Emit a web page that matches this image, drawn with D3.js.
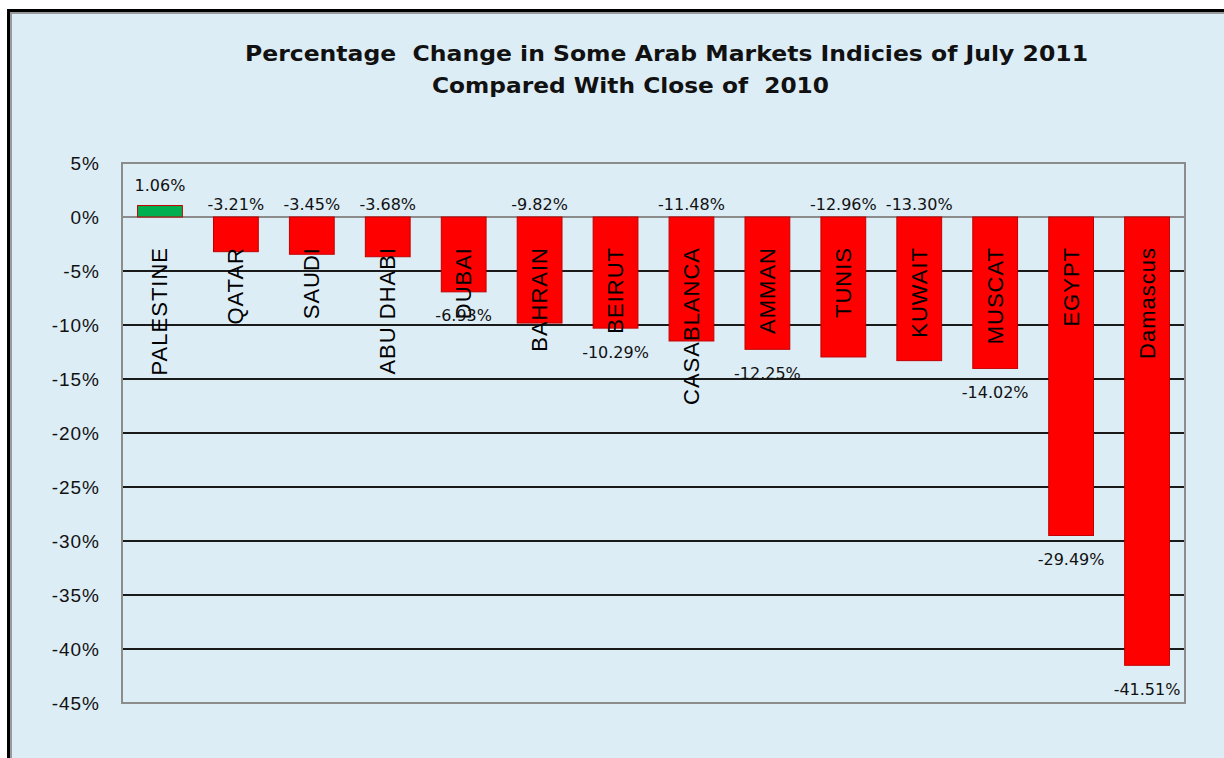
<!DOCTYPE html>
<html>
<head>
<meta charset="utf-8">
<script src="https://cdn.jsdelivr.net/npm/d3@7"></script>
<style>
  body { margin: 0; background: #fff; }
  svg { display: block; }
</style>
</head>
<body>
<svg id="chart" width="1224" height="758"></svg>
<script>
/**
 * Chart data
 */
var markets = ["PALESTINE", "QATAR", "SAUDI", "ABU DHABI", "DUBAI", "BAHRAIN", "BEIRUT",
               "CASABLANCA", "AMMAN", "TUNIS", "KUWAIT", "MUSCAT", "EGYPT", "Damascus"];
var changes = [1.06, -3.21, -3.45, -3.68, -6.93, -9.82, -10.29,
               -11.48, -12.25, -12.96, -13.30, -14.02, -29.49, -41.51];
// where the value label sits: "end" = outside the bar end, "zero" = just above the 0% line
var labelSide = ["end", "zero", "zero", "zero", "end", "zero", "end",
                 "zero", "end", "zero", "zero", "end", "end", "end"];
var yTicks = [5, 0, -5, -10, -15, -20, -25, -30, -35, -40, -45];
var titleLines = ["Percentage  Change in Some Arab Markets Indicies of July 2011",
                  "Compared With Close of  2010"];

var svg = d3.select("#chart");

// outer frame: black rule with a grey inner rule, light blue fill
svg.append("rect")
  .attr("x", 8.5).attr("y", 10.5)
  .attr("width", 1240).attr("height", 780)
  .style("fill", "#ddedf6")
  .style("stroke", "#000")
  .style("stroke-width", 3);
svg.append("rect")
  .attr("x", 11).attr("y", 13)
  .attr("width", 1240).attr("height", 780)
  .style("fill", "none")
  .style("stroke", "#9a9a9a")
  .style("stroke-width", 2);

// title, two lines
var titleX = [245, 432];
var titleW = [843, 397];
svg.append("g").selectAll("text")
  .data(titleLines)
  .enter().append("text")
  .attr("x", function(d, i) { return titleX[i]; })
  .attr("y", function(d, i) { return 61 + i * 32; })
  .attr("textLength", function(d, i) { return titleW[i]; })
  .attr("lengthAdjust", "spacingAndGlyphs")
  .style("font-family", "'DejaVu Sans', Verdana, sans-serif")
  .style("font-weight", "bold")
  .style("font-size", "22px")
  .style("fill", "#111")
  .style("white-space", "pre")
  .text(function(d) { return d; });

// scales
var plot = {left: 122, right: 1185, top: 163, bottom: 703};
var x = d3.scaleBand()
  .domain(markets)
  .range([plot.left, plot.right])
  .paddingInner(0.41)
  .paddingOuter(0.205);
var y = d3.scaleLinear()
  .domain([-45, 5])
  .range([plot.bottom, plot.top]);

// gridlines (dark) between 0% and the bottom
svg.append("g").selectAll("line")
  .data(yTicks.filter(function(t) { return t < 0 && t > -45; }))
  .enter().append("line")
  .attr("x1", plot.left).attr("x2", plot.right)
  .attr("y1", function(d) { return y(d); })
  .attr("y2", function(d) { return y(d); })
  .style("stroke", "#1a1a1a")
  .style("stroke-width", 2);

// 0% line is grey
svg.append("line")
  .attr("x1", plot.left).attr("x2", plot.right)
  .attr("y1", y(0)).attr("y2", y(0))
  .style("stroke", "#8c8c8c")
  .style("stroke-width", 2);

// plot border
svg.append("rect")
  .attr("x", plot.left).attr("y", plot.top)
  .attr("width", plot.right - plot.left)
  .attr("height", plot.bottom - plot.top)
  .style("fill", "none")
  .style("stroke", "#8c8c8c")
  .style("stroke-width", 2);

// y axis labels
var yAxis = d3.axisLeft(y)
  .tickValues(yTicks)
  .tickSize(0)
  .tickPadding(22)
  .tickFormat(function(d) { return d + "%"; });
var yg = svg.append("g")
  .attr("transform", "translate(" + plot.left + ",0)")
  .call(yAxis);
yg.select(".domain").remove();
yg.selectAll("text")
  .style("font-family", "'Liberation Sans', Arial, sans-serif")
  .style("font-size", "19px")
  .style("letter-spacing", "1px")
  .style("fill", "#111");

// bars
svg.append("g").selectAll("rect")
  .data(changes)
  .enter().append("rect")
  .attr("x", function(d, i) { return x(markets[i]); })
  .attr("y", function(d) { return y(Math.max(0, d)); })
  .attr("width", x.bandwidth())
  .attr("height", function(d) { return Math.abs(y(d) - y(0)); })
  .style("fill", function(d) { return d > 0 ? "#00b050" : "#ff0000"; })
  .style("stroke", "#c00000")
  .style("stroke-width", 1);

// category names, rotated, hanging from just below the 0% line
svg.append("g").selectAll("text")
  .data(markets)
  .enter().append("text")
  .attr("transform", function(d) {
    return "translate(" + (x(d) + x.bandwidth() / 2) + ",247) rotate(-90)";
  })
  .attr("text-anchor", "end")
  .attr("dominant-baseline", "central")
  .style("font-family", "'Liberation Sans', Arial, sans-serif")
  .style("font-size", "22px")
  .style("letter-spacing", "1px")
  .style("fill", "#000")
  .text(function(d) { return d; });

// value labels
svg.append("g").selectAll("text")
  .data(changes)
  .enter().append("text")
  .attr("x", function(d, i) { return x(markets[i]) + x.bandwidth() / 2; })
  .attr("y", function(d, i) {
    if (labelSide[i] === "zero") return y(0) - 13;
    return d > 0 ? y(d) - 20 : y(d) + 24;
  })
  .attr("text-anchor", "middle")
  .attr("dominant-baseline", "central")
  .style("font-family", "'DejaVu Sans', Verdana, sans-serif")
  .style("font-size", "16px")
  .style("fill", "#111")
  .text(function(d) { return d.toFixed(2) + "%"; });
</script>
</body>
</html>
